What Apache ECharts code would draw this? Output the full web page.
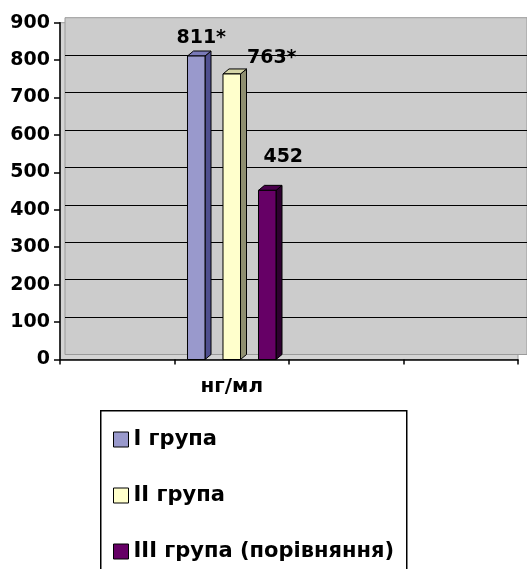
<!DOCTYPE html>
<html><head><meta charset="utf-8">
<script src="https://cdn.jsdelivr.net/npm/echarts@6/dist/echarts.min.js"></script>
<style>html,body{margin:0;padding:0;background:#fff}#c{width:527px;height:569px}</style>
</head><body><div id="c"></div>
<script>
// ---- data ----
const categories = ['нг/мл'];
const axisSlots = ['', 'нг/мл', '', ''];
const seriesNames = ['I група', 'II група', 'III група (порівняння)'];
const group1 = [811];
const group2 = [763];
const group3 = [452];
const marks = ['*', '*', ''];
const yMin = 0, yMax = 900, yStep = 100;

// ---- styling ----
const FONT = '"DejaVu Sans", sans-serif';
const palettes = [
  {front: '#9999cc', side: '#4f4f8f', top: '#7a7ab8'},
  {front: '#ffffcc', side: '#8f8f70', top: '#d6d6a8'},
  {front: '#660066', side: '#2e0030', top: '#4a004c'}
];
const labelOffsets = [[5, -8], [40, -6], [16, -24]];

function makeRender(idx) {
  const c = palettes[idx];
  return function (params, api) {
    const xv = api.value(0), v = api.value(1);
    const top = api.coord([xv, v]);
    const base = api.coord([xv, 0]);
    const band = api.size([1, 0])[0];
    const w = band * 0.153;
    const cx = top[0] + (idx - 1) * band * 0.31;
    const x0 = cx - w / 2, x1 = cx + w / 2;
    const dx = 6, dy = -5;
    const yt = top[1], yb = base[1];
    return {
      type: 'group',
      children: [
        {type: 'polygon', shape: {points: [[x1, yb], [x1, yt], [x1 + dx, yt + dy], [x1 + dx, yb + dy]]},
         style: {fill: c.side, stroke: '#000', lineWidth: 1}},
        {type: 'polygon', shape: {points: [[x0, yt], [x1, yt], [x1 + dx, yt + dy], [x0 + dx, yt + dy]]},
         style: {fill: c.top, stroke: '#000', lineWidth: 1}},
        {type: 'rect', shape: {x: x0, y: yt, width: w, height: yb - yt},
         style: {fill: c.front, stroke: '#000', lineWidth: 1}},
        {type: 'text', x: cx + labelOffsets[idx][0], y: yt + labelOffsets[idx][1],
         style: {text: v + marks[idx], align: 'center', verticalAlign: 'bottom',
                 font: 'bold 19px ' + FONT, fill: '#000'}}
      ]
    };
  };
}

const groups = [group1, group2, group3];
const series = groups.map((vals, i) => ({
  type: 'custom',
  name: seriesNames[i],
  xAxisIndex: 0, yAxisIndex: 0,
  itemStyle: {color: palettes[i].front},
  encode: {x: 0, y: 1},
  data: vals.map((v, k) => [categories[k], v]),
  renderItem: makeRender(i),
  z: 5
}));

const chart = echarts.init(document.getElementById('c'));
chart.setOption({
  animation: false,
  backgroundColor: '#fff',
  grid: [
    {left: 60, right: 9, top: 22.7, bottom: 209.5, show: true, backgroundColor: '#d4d4d4', borderColor: '#9a9a9a', borderWidth: 1},
    {left: 65, right: -30, top: 17.7, bottom: 214.5, show: true, backgroundColor: '#cccccc', borderColor: '#9a9a9a', borderWidth: 1}
  ],
  xAxis: [
    {type: 'category', gridIndex: 0, data: axisSlots, boundaryGap: true,
     axisLine: {lineStyle: {color: '#000', width: 1.5}},
     axisTick: {show: true, length: 5, lineStyle: {color: '#000', width: 1.5}},
     axisLabel: {color: '#000', fontFamily: FONT, fontWeight: 'bold', fontSize: 20, margin: 17, interval: 0},
     splitLine: {show: false}},
    {type: 'value', gridIndex: 1, show: false}
  ],
  yAxis: [
    {type: 'value', gridIndex: 0, min: yMin, max: yMax, interval: yStep,
     axisLine: {show: true, lineStyle: {color: '#000', width: 1.5}},
     axisTick: {show: true, length: 6, lineStyle: {color: '#000', width: 1.5}},
     axisLabel: {color: '#000', fontFamily: FONT, fontWeight: 'bold', fontSize: 19, margin: 10},
     splitLine: {show: false}},
    {type: 'value', gridIndex: 1, min: yMin, max: yMax, interval: yStep,
     axisLine: {show: false}, axisTick: {show: false}, axisLabel: {show: false},
     splitLine: {show: true, showMinLine: false, showMaxLine: false, lineStyle: {color: '#000', width: 1}}}
  ],
  graphic: [
    {type: 'rect', left: 100, top: 410, silent: true, z: 0,
     shape: {width: 306, height: 220},
     style: {fill: '#fff', stroke: '#000', lineWidth: 1.5}}
  ],
  legend: {
    orient: 'vertical', left: 100, top: 410,
    padding: [19, 15, 0, 13],
    itemWidth: 15, itemHeight: 15, itemGap: 35,
    icon: 'rect',
    itemStyle: {borderColor: '#000', borderWidth: 1},
    textStyle: {color: '#000', fontFamily: FONT, fontWeight: 'bold', fontSize: 21, lineHeight: 20},
    data: seriesNames,
    z: 5
  },
  series: series
});
</script></body></html>
